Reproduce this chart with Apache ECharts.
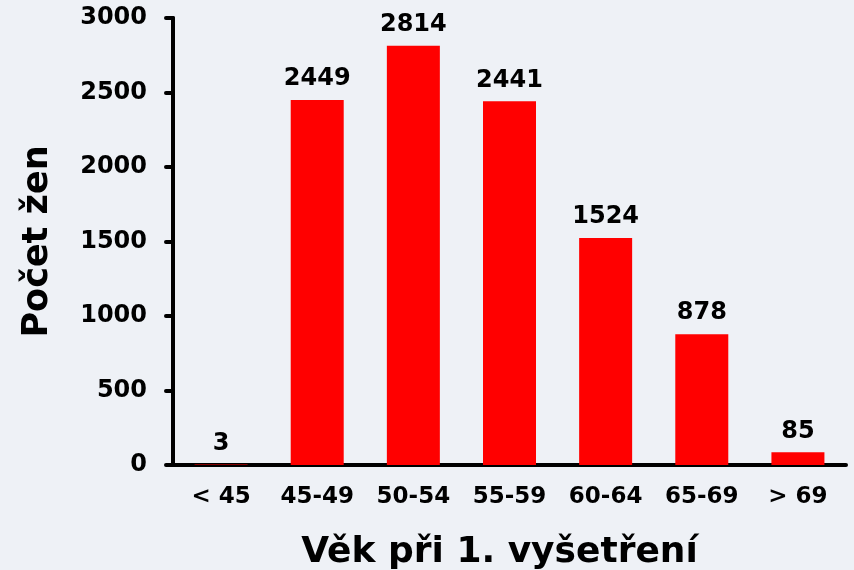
<!DOCTYPE html>
<html>
<head>
<meta charset="utf-8">
<script src="https://cdn.jsdelivr.net/npm/echarts@6/dist/echarts.min.js"></script>
<style>
  html, body { margin: 0; padding: 0; background: #eef1f6; }
  #chart { width: 854px; height: 570px; }
</style>
</head>
<body>
<div id="chart"></div>
<script>
  var categories = ['< 45', '45-49', '50-54', '55-59', '60-64', '65-69', '> 69']
  var counts = [3, 2449, 2814, 2441, 1524, 878, 85]
  var yTicks = [0, 500, 1000, 1500, 2000, 2500, 3000]

  var font = 'DejaVu Sans'
  var chart = echarts.init(document.getElementById('chart'))

  chart.setOption({
    backgroundColor: '#eef1f6',
    animation: false,
    grid: {
      left: 173,
      right: 8,
      top: 18,
      bottom: 105,
      outerBoundsMode: 'none'
    },
    xAxis: {
      type: 'category',
      data: categories,
      name: 'Věk při 1. vyšetření',
      nameLocation: 'middle',
      nameGap: 70,
      nameTextStyle: {
        fontFamily: font,
        fontWeight: 'bold',
        fontSize: 36,
        color: '#000',
        padding: [0, 20, 0, 0]
      },
      axisLine: {
        lineStyle: { color: '#000', width: 4, cap: 'round' }
      },
      axisTick: {
        interval: 0,
        length: 7,
        lineStyle: { color: '#000', width: 4, cap: 'round' }
      },
      axisLabel: {
        interval: 0,
        hideOverlap: false,
        margin: 21,
        fontFamily: font,
        fontWeight: 'bold',
        fontSize: 23,
        color: '#000'
      }
    },
    yAxis: {
      type: 'value',
      min: yTicks[0],
      max: yTicks[yTicks.length - 1],
      interval: 500,
      name: 'Počet žen',
      nameLocation: 'middle',
      nameGap: 118,
      nameTextStyle: {
        fontFamily: font,
        fontWeight: 'bold',
        fontSize: 35,
        color: '#000'
      },
      axisLine: {
        show: true,
        lineStyle: { color: '#000', width: 4, cap: 'round' }
      },
      axisTick: {
        show: true,
        length: 7,
        lineStyle: { color: '#000', width: 4, cap: 'round' }
      },
      splitLine: { show: false },
      axisLabel: {
        margin: 26,
        fontFamily: font,
        fontWeight: 'bold',
        fontSize: 24,
        color: '#000',
        formatter: function (v) { return String(v) }
      }
    },
    series: [{
      type: 'bar',
      data: counts,
      barWidth: 53,
      itemStyle: { color: '#ff0000' },
      label: {
        show: true,
        position: 'top',
        distance: 9,
        fontFamily: font,
        fontWeight: 'bold',
        fontSize: 24,
        color: '#000'
      }
    }]
  })
</script>
</body>
</html>
